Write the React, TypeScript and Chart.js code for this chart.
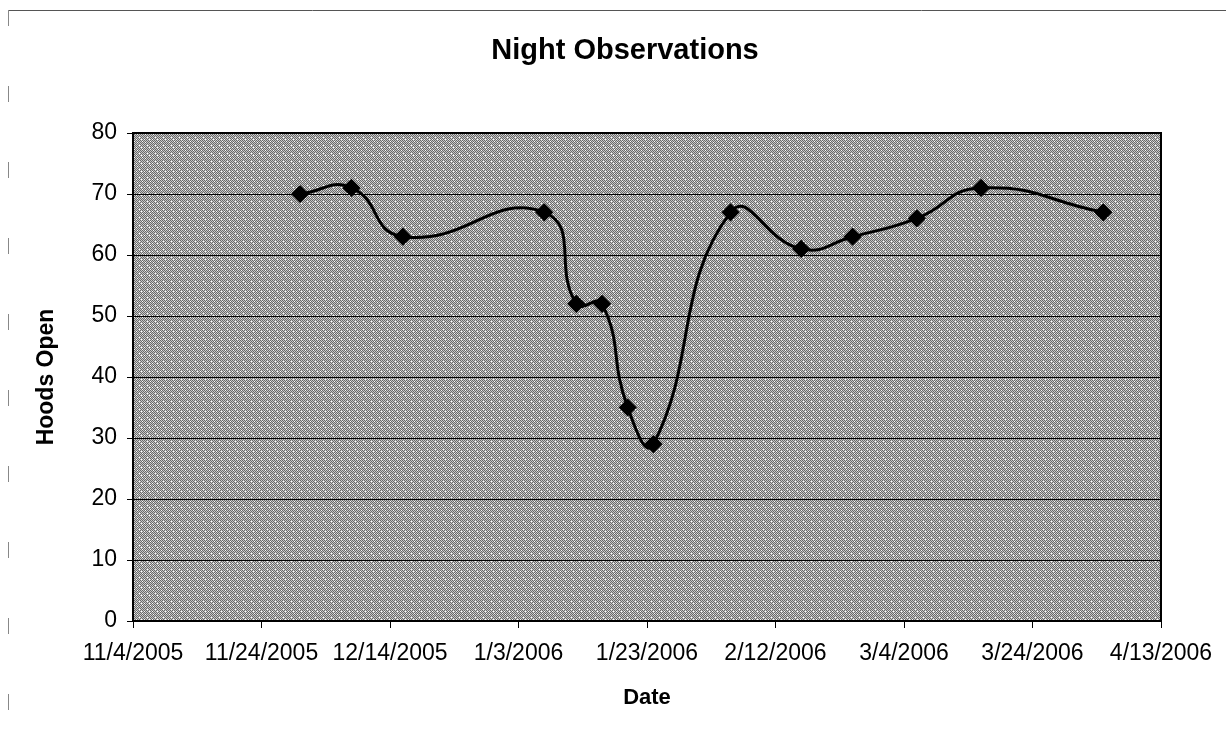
import React, { useEffect, useRef } from "react";
import { Chart, registerables } from "chart.js";

Chart.register(...registerables);

const chartTitle = "Night Observations";
const xAxisTitle = "Date";
const yAxisTitle = "Hoods Open";

const observationDates = [
  "11/30/2005", "12/8/2005", "12/16/2005", "1/7/2006", "1/12/2006", "1/16/2006", "1/20/2006",
  "1/24/2006", "2/5/2006", "2/16/2006", "2/24/2006", "3/6/2006", "3/16/2006", "4/4/2006",
];
const hoodsOpen = [70, 71, 63, 67, 52, 52, 35, 29, 67, 61, 63, 66, 71, 67];

const xStartDate = "11/4/2005";
const xEndDate = "4/13/2006";
const xTickStepDays = 20;
const yMin = 0;
const yMax = 80;
const yStep = 10;

const DAY_MS = 86400000;
function parseDate(s: string): number {
  const [m, d, y] = s.split("/").map(Number);
  return Date.UTC(y, m - 1, d);
}
const baseMs = parseDate(xStartDate);
const toDays = (s: string) => Math.round((parseDate(s) - baseMs) / DAY_MS);
const formatDays = (days: number) => {
  const dt = new Date(baseMs + days * DAY_MS);
  return `${dt.getUTCMonth() + 1}/${dt.getUTCDate()}/${dt.getUTCFullYear()}`;
};

const FONT = "'Liberation Sans', Arial, sans-serif";

function makePattern(ctx: CanvasRenderingContext2D): CanvasPattern | string {
  const c = document.createElement("canvas");
  c.width = 8;
  c.height = 8;
  const cx = c.getContext("2d");
  if (!cx) return "#9a9a9a";
  const img = cx.createImageData(8, 8);
  const whites = new Set(["3,1", "6,5", "1,6", "5,3", "0,3"]);
  for (let y = 0; y < 8; y++) {
    for (let x = 0; x < 8; x++) {
      let v = (x + y) % 2 === 0 ? 105 : 200;
      if (whites.has(`${x},${y}`)) v = 250;
      const i = (y * 8 + x) * 4;
      img.data[i] = v;
      img.data[i + 1] = v;
      img.data[i + 2] = v;
      img.data[i + 3] = 255;
    }
  }
  cx.putImageData(img, 0, 0);
  return ctx.createPattern(c, "repeat") || "#9a9a9a";
}

export default function App() {
  const canvasRef = useRef<HTMLCanvasElement | null>(null);

  useEffect(() => {
    const canvas = canvasRef.current;
    if (!canvas) return;
    const ctx0 = canvas.getContext("2d")!;
    const pattern = makePattern(ctx0);

    const decor = {
      id: "decor",
      beforeDraw(chart: any) {
        const { ctx, chartArea: a, width, height } = chart;
        ctx.save();
        ctx.fillStyle = "#ffffff";
        ctx.fillRect(0, 0, width, height);
        ctx.strokeStyle = "#555555";
        ctx.lineWidth = 1;
        ctx.beginPath();
        ctx.moveTo(8, 10.5);
        ctx.lineTo(width, 10.5);
        ctx.stroke();
        ctx.strokeStyle = "#888888";
        ctx.setLineDash([16, 60]);
        ctx.beginPath();
        ctx.moveTo(8.5, 10);
        ctx.lineTo(8.5, height);
        ctx.stroke();
        ctx.setLineDash([]);
        ctx.fillStyle = pattern;
        ctx.fillRect(a.left, a.top, a.right - a.left, a.bottom - a.top);
        ctx.restore();
      },
      beforeDatasetsDraw(chart: any) {
        const { ctx, chartArea: a } = chart;
        ctx.save();
        ctx.strokeStyle = "#000000";
        ctx.lineWidth = 2;
        ctx.strokeRect(a.left, a.top, a.right - a.left, a.bottom - a.top);
        ctx.restore();
      },
    };

    const chart = new Chart(canvas, {
      type: "line",
      data: {
        datasets: [
          {
            label: yAxisTitle,
            data: observationDates.map((d, i) => ({ x: toDays(d), y: hoodsOpen[i] })),
            borderColor: "#000000",
            backgroundColor: "#000000",
            borderWidth: 3,
            tension: 0.5,
            pointStyle: "rectRot",
            pointRadius: 7,
            pointBackgroundColor: "#000000",
            pointBorderColor: "#000000",
            fill: false,
          },
        ],
      },
      options: {
        animation: false,
        responsive: false,
        maintainAspectRatio: false,
        layout: { padding: { left: 24, right: 0, top: 0, bottom: 0 } },
        plugins: {
          legend: { display: false },
          tooltip: { enabled: false },
          title: {
            display: true,
            text: chartTitle,
            color: "#000000",
            font: { family: FONT, size: 29, weight: "bold" },
            padding: { top: 33.6, bottom: 64.6 },
          },
        },
        scales: {
          x: {
            type: "linear",
            min: 0,
            max: toDays(xEndDate),
            afterFit: (s: any) => {
              s.height = 113;
            },
            ticks: {
              stepSize: xTickStepDays,
              padding: 12,
              color: "#000000",
              maxRotation: 0,
              autoSkip: false,
              font: { family: FONT, size: 23 },
              callback: (v: any) => formatDays(Number(v)),
            },
            grid: {
              display: true,
              drawOnChartArea: false,
              drawTicks: true,
              tickLength: 7,
              color: "#000000",
              lineWidth: 1,
            },
            border: { display: true, color: "#000000", width: 2 },
            title: {
              display: true,
              text: xAxisTitle,
              color: "#000000",
              font: { family: FONT, size: 22, weight: "bold" },
              padding: { top: 0, bottom: 23.3 },
            },
          },
          y: {
            type: "linear",
            min: yMin,
            max: yMax,
            afterFit: (s: any) => {
              s.width = 109;
            },
            ticks: {
              stepSize: yStep,
              padding: 10,
              color: "#000000",
              font: { family: FONT, size: 23 },
            },
            grid: {
              display: true,
              drawOnChartArea: true,
              drawTicks: true,
              tickLength: 6,
              color: "#000000",
              lineWidth: 1,
            },
            border: { display: true, color: "#000000", width: 2 },
            title: {
              display: true,
              text: yAxisTitle,
              color: "#000000",
              font: { family: FONT, size: 23, weight: "bold" },
              padding: { top: 9.2, bottom: 0 },
            },
          },
          yRight: {
            type: "linear",
            position: "right",
            display: true,
            afterFit: (s: any) => {
              s.width = 65;
            },
            ticks: { display: false },
            grid: { display: false, drawTicks: false },
            border: { display: false },
            title: { display: false },
          },
        },
      },
      plugins: [decor],
    } as any);

    return () => chart.destroy();
  }, []);

  return (
    <div style={{ position: "fixed", left: 0, top: 0, width: 1226, height: 734, background: "#ffffff" }}>
      <canvas ref={canvasRef} width={1226} height={734} style={{ display: "block" }} />
    </div>
  );
}
